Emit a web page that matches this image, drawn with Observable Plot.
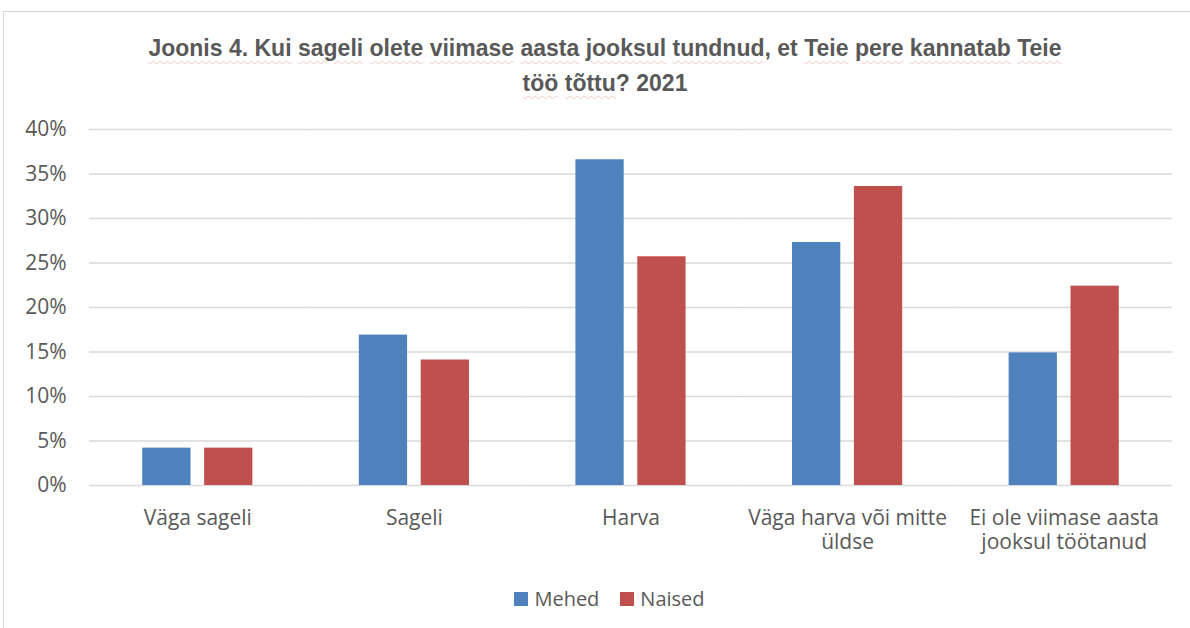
<!DOCTYPE html>
<html><head><meta charset="utf-8">
<script src="https://cdn.jsdelivr.net/npm/d3@7"></script>
<script src="https://cdn.jsdelivr.net/npm/@observablehq/plot@0.6"></script>
<style>
body{margin:0;background:#fff;width:1190px;height:628px;overflow:hidden;position:relative;font-family:"Open Sans",sans-serif;}
#frame{position:absolute;left:3px;top:11px;width:1200px;height:640px;border-left:1.5px solid #d9d9d9;border-top:1.5px solid #d9d9d9;}
#title{position:absolute;left:0;width:1210px;top:31px;text-align:center;font-family:"Liberation Sans",sans-serif;font-weight:bold;font-size:23px;color:#595959;line-height:35px;}
#title u{text-decoration:underline wavy rgba(230,120,120,0.4);text-decoration-thickness:1px;text-underline-offset:4px;}
#chart{position:absolute;left:0;top:100px;}
#legend{position:absolute;top:585px;left:0;width:1190px;display:flex;justify-content:center;gap:21px;font-size:20px;line-height:28px;color:#595959;padding-left:29px;box-sizing:border-box;}
#legend span{display:flex;align-items:center;}
#legend i{display:inline-block;width:14px;height:14px;margin-right:6px;}
</style></head>
<body>
<div id="frame"></div>
<div id="title"><u>Joonis 4. Kui</u> <u>sageli</u> <u>olete</u> <u>viimase</u> <u>aasta</u> <u>jooksul</u> <u>tundnud</u>, et <u>Teie</u> <u>pere</u> <u>kannatab</u> <u>Teie</u><br><u>töö</u> <u>tõttu</u>? 2021</div>
<div id="chart"></div>
<div id="legend"></div>
<script>
const categories = ["Väga sageli","Sageli","Harva","Väga harva või mitte üldse","Ei ole viimase aasta jooksul töötanud"];
const tickLabels = ["Väga sageli","Sageli","Harva","Väga harva või mitte\nüldse","Ei ole viimase aasta\njooksul töötanud"];
const seriesNames = ["Mehed","Naised"];
const mehed = [4.2,16.9,36.6,27.3,14.9];
const naised = [4.2,14.1,25.7,33.6,22.4];
const colors = ["#4f81bd","#c0504d"];
const yTicks = [0,5,10,15,20,25,30,35,40];

const data = [];
categories.forEach((c,i)=>{
  data.push({cat:c, series:"Mehed", value:mehed[i]});
  data.push({cat:c, series:"Naised", value:naised[i]});
});

const plot = Plot.plot({
  width:1190, height:470,
  marginLeft:89, marginRight:18, marginTop:29, marginBottom:85,
  style:{fontFamily:"'Open Sans', sans-serif", fontSize:"21px", color:"#595959", background:"transparent"},
  fx:{domain:categories, padding:0, round:false, label:null},
  x:{domain:seriesNames, paddingInner:0.22, paddingOuter:0.86, round:false, axis:null},
  y:{domain:[0,40], label:null},
  color:{domain:seriesNames, range:colors},
  marks:[
    Plot.ruleY(yTicks, {stroke:"#d9d9d9", strokeWidth:1.5}),
    Plot.barY(data, {fx:"cat", x:"series", y:"value", fill:"series"}),
    Plot.axisY({ticks:yTicks, tickSize:0, tickPadding:23, tickFormat:d=>d+"%", fill:"#595959", fontSize:21}),
    Plot.axisFx({anchor:"bottom", tickSize:0, tickPadding:22, tickFormat:(d)=>tickLabels[categories.indexOf(d)], fill:"#595959", fontSize:21, lineHeight:1.15, label:null})
  ]
});
document.getElementById("chart").appendChild(plot);

const legend = document.getElementById("legend");
seriesNames.forEach((s,i)=>{
  const sp = document.createElement("span");
  const sw = document.createElement("i");
  sw.style.background = colors[i];
  sp.appendChild(sw);
  sp.appendChild(document.createTextNode(s));
  legend.appendChild(sp);
});
</script>
</body></html>
